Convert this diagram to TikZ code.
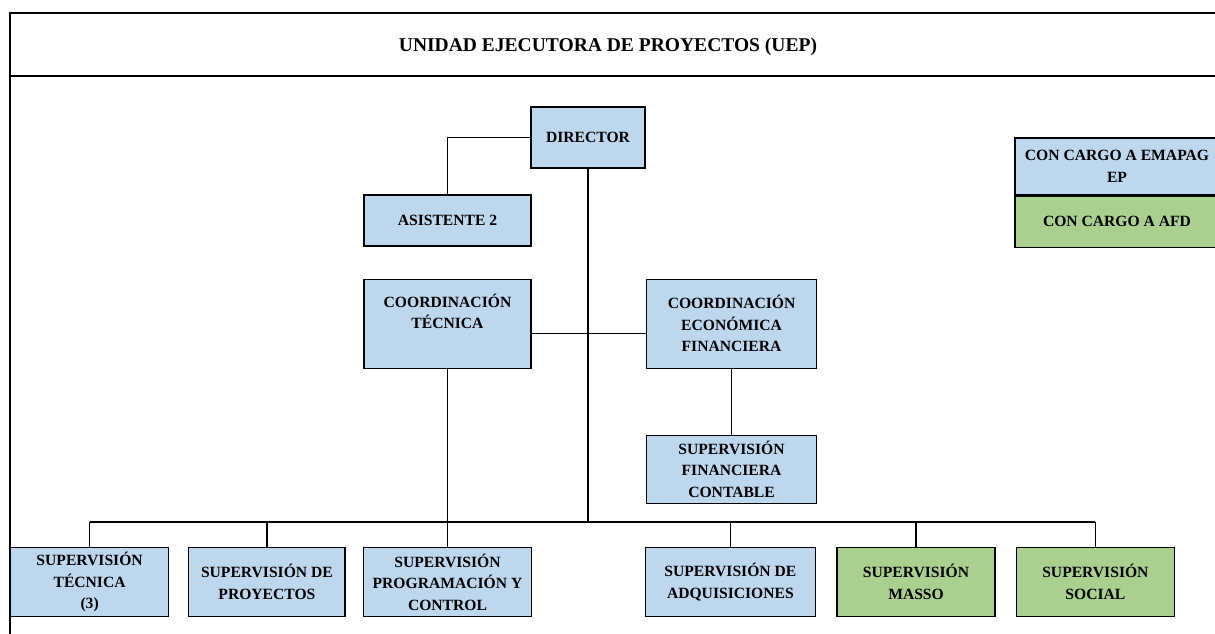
\documentclass[tikz,border=0pt]{standalone}
\usepackage{fontspec}
\setmainfont{Liberation Serif}
\usepackage{xcolor}
\usetikzlibrary{positioning}
\definecolor{azul}{RGB}{189,215,238}
\definecolor{verde}{RGB}{169,208,142}

\begin{document}
\begin{tikzpicture}[x=0.64pt, y=-0.64pt,
    caja/.style={rectangle, draw, line width=0.8pt, fill=azul, align=center, inner sep=1pt, font=\fontsize{10}{13.8}\selectfont\bfseries},
    cajav/.style={caja, fill=verde},
    inf/.style={minimum height=44pt},
    linea/.style={line width=0.7pt}]
	\useasboundingbox (0,0) rectangle (1215,633);
	\draw[linea] (1225,13) -- (10,13) -- (10,645);
	\draw[linea] (10,76) -- (1225,76);
	\node[font=\fontsize{12.5}{15}\selectfont\bfseries] (tit) at (608,47) {UNIDAD EJECUTORA DE PROYECTOS (UEP)};
	
	\node[caja, minimum width=73pt, minimum height=39pt] (dir) at (588,137.5) {DIRECTOR};
	\node[caja, minimum width=107pt, minimum height=32.6pt] (asis) at (447.5,220.5) {ASISTENTE 2};
	\draw[linea] (dir.west) -| (asis.north);
	
	\node[caja, minimum width=107pt, minimum height=57pt, below=20.5pt of asis] (ctec) {COORDINACIÓN\\TÉCNICA\\[2pt]};
	\node[caja, minimum width=109pt, minimum height=57pt, right=73pt of ctec] (ceco) {COORDINACIÓN\\ECONÓMICA\\FINANCIERA};
	\draw[linea] ([yshift=-6pt]ctec.east) -- ([yshift=-6pt]ceco.west);
	
	\node[caja, minimum width=109pt, minimum height=43.5pt, below=42pt of ceco] (sfin) {SUPERVISIÓN\\FINANCIERA\\CONTABLE};
	\draw[linea] (ceco.south) -- (sfin.north);
	
	\node[caja, inf, minimum width=107.5pt, below=114pt of ctec] (sprog) {SUPERVISIÓN\\PROGRAMACIÓN Y\\CONTROL};
	\node[caja, inf, minimum width=100pt, left=11pt of sprog] (sproy) {SUPERVISIÓN DE\\PROYECTOS};
	\node[caja, inf, minimum width=101pt, left=12.2pt of sproy] (stec) {SUPERVISIÓN\\TÉCNICA\\(3)};
	\node[caja, inf, minimum width=109pt, right=72pt of sprog] (sadq) {SUPERVISIÓN DE\\ADQUISICIONES};
	\node[cajav, inf, minimum width=101pt, right=13pt of sadq] (smasso) {SUPERVISIÓN\\MASSO};
	\node[cajav, inf, minimum width=101pt, right=13pt of smasso] (ssoc) {SUPERVISIÓN\\SOCIAL};
	
	\coordinate (bus) at (588,522);
	\draw[linea] (dir.south) -- (bus);
	\draw[linea] (stec.north |- bus) -- (ssoc.north |- bus);
	\foreach \n in {stec,sproy,sadq,smasso,ssoc}
		\draw[linea] (\n.north) -- (\n.north |- bus);
	\draw[linea] (ctec.south) -- (sprog.north);
	
	\node[caja, minimum width=130.5pt, minimum height=36.5pt] (emap) at (1117,166.5) {CON CARGO A EMAPAG\\EP};
	\node[cajav, minimum width=130.5pt, minimum height=32.6pt, below=0pt of emap] (afd) {CON CARGO A AFD};
\end{tikzpicture}
\end{document}
